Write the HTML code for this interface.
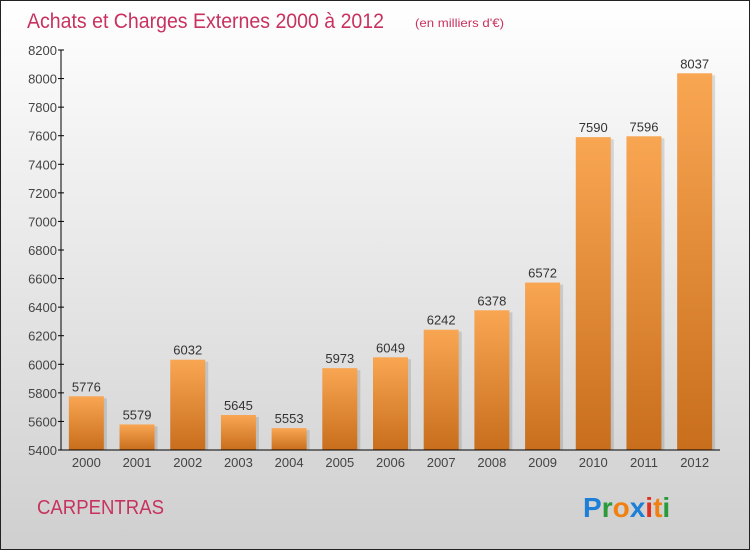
<!DOCTYPE html>
<html><head><meta charset="utf-8"><style>
body{margin:0}
#c{width:748px;height:548px;border:1px solid #222;background:linear-gradient(#ffffff,#f0f0f0 30%,#cfcfcf);position:relative;overflow:hidden;font-family:"Liberation Sans",sans-serif}
</style></head><body>
<div id="c">
<svg id="s" width="748" height="548">
<defs>
<linearGradient id="g" x1="0" y1="0" x2="0" y2="1"><stop offset="0" stop-color="#f9a653"/><stop offset="1" stop-color="#c86e1c"/></linearGradient>
</defs>
<text x="26" y="27" font-size="21" fill="#c8325e" textLength="357" lengthAdjust="spacingAndGlyphs">Achats et Charges Externes 2000 à 2012</text>
<text x="414" y="26" font-size="12" fill="#c8325e" textLength="89" lengthAdjust="spacingAndGlyphs">(en milliers d'€)</text>
<text x="36" y="513" font-size="20" fill="#c8325e" textLength="127" lengthAdjust="spacingAndGlyphs">CARPENTRAS</text>
<g font-size="28" font-weight="bold" font-family="'Liberation Sans',sans-serif">
<text x="582" y="516"><tspan fill="#1e7fd8">P</tspan><tspan fill="#2a9a3a">r</tspan><tspan fill="#f08010">o</tspan><tspan fill="#1e7fd8">x</tspan><tspan fill="#e03020">i</tspan><tspan fill="#f08010">t</tspan><tspan fill="#2a9a3a">i</tspan></text>
</g>
<g id="plot"></g>
</svg>
</div>
<script>
const years=["2000","2001","2002","2003","2004","2005","2006","2007","2008","2009","2010","2011","2012"];
const values=[5776,5579,6032,5645,5553,5973,6049,6242,6378,6572,7590,7596,8037];
const yTicks=[5400,5600,5800,6000,6200,6400,6600,6800,7000,7200,7400,7600,7800,8000,8200];
const NS="http://www.w3.org/2000/svg";
const g=document.getElementById('plot');
const x0=60,x1=719,yb=449,yt=49,vmin=5400,vmax=8200;
const band=(x1-x0)/years.length,bw=35;
const y=v=>yb-(v-vmin)/(vmax-vmin)*(yb-yt);
function mk(t,a){const e=document.createElementNS(NS,t);for(const k in a)e.setAttribute(k,a[k]);g.appendChild(e);return e;}
yTicks.forEach(t=>{
 const l=mk('line',{x1:x0-3,x2:x0+3,y1:y(t),y2:y(t),stroke:'#000'});
 
 
 const tx=mk('text',{x:x0-4,y:y(t)+5,'text-anchor':'end','font-size':13,fill:'#444'});
 tx.textContent=t;
 
 
});
years.forEach((yr,i)=>{
 const cx=x0+band*(i+0.5),v=values[i];
 const sh=mk('rect',{x:cx-bw/2+3,y:y(v)+2,width:bw,height:yb-y(v)-2,fill:'#000',opacity:0.12});
 
 
 const r=mk('rect',{x:cx-bw/2,y:y(v),width:bw,height:yb-y(v),fill:'url(#g)'});
 
 
 const vl=mk('text',{x:cx,y:y(v)-5,'text-anchor':'middle','font-size':13,fill:'#333'});
 vl.textContent=v;
 
 
 const xl=mk('text',{x:cx,y:yb+17,'text-anchor':'middle','font-size':13,fill:'#444'});
 xl.textContent=yr;
 
 
});
const ya=mk('line',{x1:x0,x2:x0,y1:yt,y2:yb,stroke:'#000'});


const xa=mk('line',{x1:x0,x2:x1,y1:yb,y2:yb,stroke:'#000'});


</script>
</body></html>
